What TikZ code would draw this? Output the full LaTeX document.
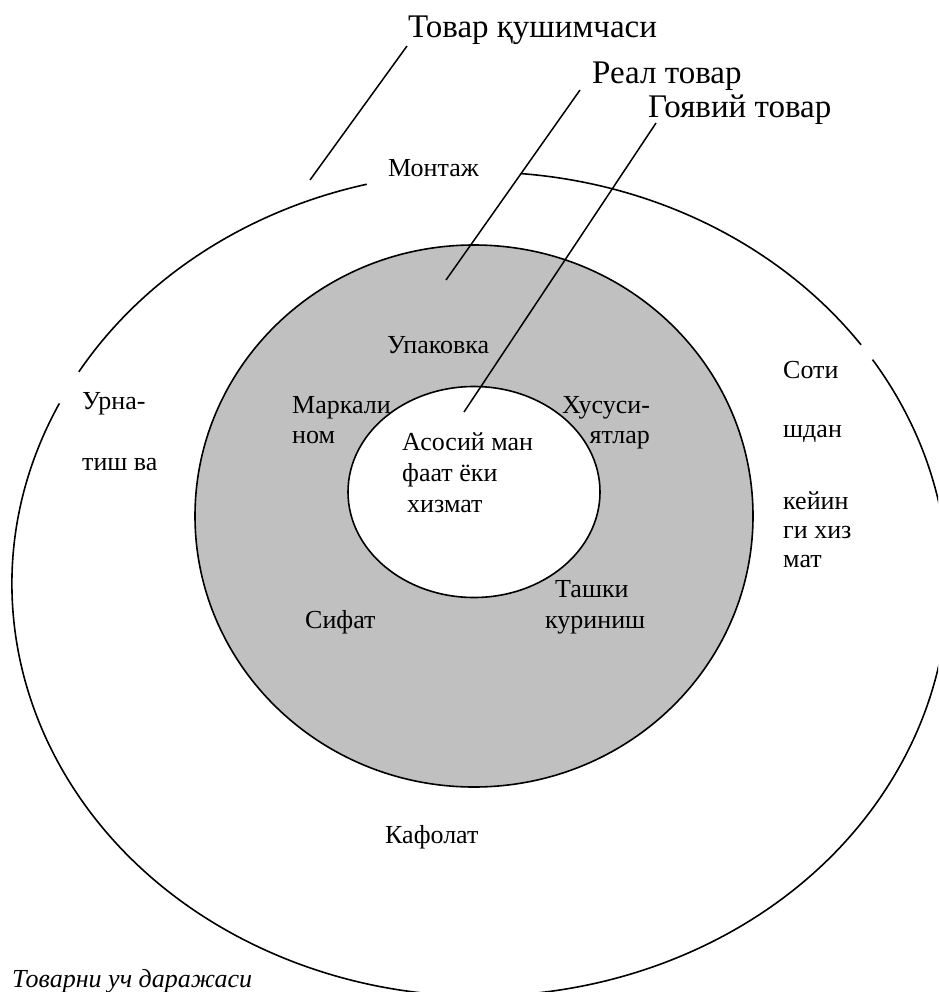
\documentclass[tikz,border=0pt]{standalone}
\usepackage{fontspec}
\setmainfont{Liberation Serif}
\definecolor{ringgray}{RGB}{192,192,192}
\begin{document}
\begin{tikzpicture}[x=1pt,y=1pt,
  lbl/.style={inner sep=0pt, anchor=base west, font=\fontsize{26}{30}\selectfont},
  head/.style={inner sep=0pt, anchor=base west, font=\fontsize{33}{38}\selectfont},
  rim/.style={line width=1.6pt},
  pointer/.style={line width=1.5pt}]
\useasboundingbox (0,0) rectangle (938,-992);
\clip (0,0) rectangle (938,-992);

% outer level: augmented product, an ellipse broken in three places
\coordinate (oc) at (480,-584);
\draw[rim] ([shift={(104:468 and 412)}]oc) arc[start angle=104, end angle=149, x radius=468pt, y radius=412pt];
\draw[rim] ([shift={(154:468 and 412)}]oc) arc[start angle=154, end angle=393, x radius=468pt, y radius=412pt];
\draw[rim] ([shift={(35.5:468 and 412)}]oc) arc[start angle=35.5, end angle=85, x radius=468pt, y radius=412pt];

% middle level: actual product
\draw[rim, fill=ringgray] (474,-516) ellipse [x radius=279pt, y radius=271pt];
% core level
\draw[rim, fill=white] (474,-492) ellipse [x radius=126pt, y radius=105.5pt];

% level titles
\node[head] (t1) at (408,-38) {Товар қушимчаси};
\node[head] (t2) at (592,-84) {Реал товар};
\node[head] (t3) at (648,-118) {Гоявий товар};

% pointer ends
\coordinate (e1) at (310,-180);
\coordinate (e2) at (446,-280);
\coordinate (e3) at (464,-412);
\draw[pointer] ([shift={(-1,-8)}]t1.base west) -- (e1);
\draw[pointer] ([shift={(-12,-6)}]t2.base west) -- (e2);
\draw[pointer] ([shift={(8,-5)}]t3.base west) -- (e3);

% outer ring labels
\node[lbl] (m) at (388,-177) {Монтаж};
\node[lbl] (u1) at (82,-409) {Урна-};
\node[lbl] (u2) at (82,-470) {тиш ва};
\node[lbl] (s1) at (783,-378) {Соти};
\node[lbl] (s2) at (783,-437) {шдан};
\node[lbl] (s3) at (783,-509) {кейин};
\node[lbl] (s4) at (783,-538) {ги хиз};
\node[lbl] (s5) at (783,-567) {мат};
\node[lbl] (k) at (385,-843) {Кафолат};

% middle ring labels
\node[lbl] (up) at (387,-353) {Упаковка};
\node[lbl] (mk1) at (292,-413) {Маркали};
\node[lbl] (mk2) at (292,-443) {ном};
\node[lbl] (h1) at (562,-413) {Хусуси-};
\node[lbl, anchor=base east] (h2) at (650,-443) {ятлар};
\node[lbl] (tk1) at (555,-597) {Ташки};
\node[lbl] (tk2) at (545,-628) {куриниш};
\node[lbl] (sf) at (305,-628) {Сифат};

% core labels
\node[lbl] (c1) at (402,-450) {Асосий ман};
\node[lbl] (c2) at (402,-481) {фаат ёки};
\node[lbl] (c3) at (407,-512) {хизмат};

% caption
\node[lbl, font=\fontsize{26}{30}\selectfont\itshape] (cap) at (12,-987) {Товарни уч даражаси};
\end{tikzpicture}
\end{document}
